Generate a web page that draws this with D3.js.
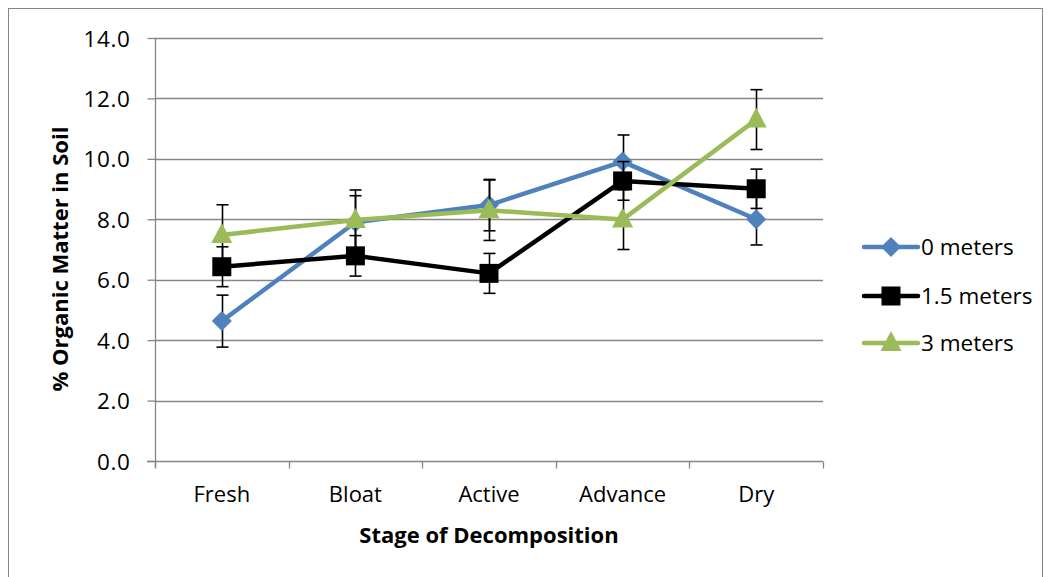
<!DOCTYPE html>
<html><head><meta charset="utf-8">
<script src="https://cdn.jsdelivr.net/npm/d3@7"></script>
<style>body{margin:0;background:#fff}svg{display:block}text{font-family:"Open Sans","Noto Sans",sans-serif}</style>
</head><body><svg id="c" width="1051" height="577"></svg>
<script>
const categories = ["Fresh","Bloat","Active","Advance","Dry"];
const seriesNames = ["0 meters","1.5 meters","3 meters"];
const vals0 = [4.63, 7.9, 8.47, 9.91, 8.0];
const err0  = [0.86, 0.88, 0.85, 0.88, 0.85];
const vals15 = [6.43, 6.79, 6.21, 9.27, 9.01];
const err15  = [0.66, 0.67, 0.66, 0.64, 0.65];
const vals3 = [7.48, 7.98, 8.3, 7.99, 11.3];
const err3  = [1.0, 0.99, 1.0, 0.99, 0.99];
const yTicks = [0,2,4,6,8,10,12,14];

const svg = d3.select("#c");
const L=155,R=823,T=38,B=461;
const x = d3.scaleBand().domain(categories).range([L,R]);
const y = d3.scaleLinear().domain([0,14]).range([B,T]);
const cx = c => x(c)+x.bandwidth()/2;

svg.append("rect").attr("x",8.5).attr("y",8.5).attr("width",1034).attr("height",600)
  .attr("fill","none").attr("stroke","#868686").attr("stroke-width",1);

svg.append("g").selectAll("line").data(yTicks.filter(d=>d>0)).join("line")
  .attr("x1",L).attr("x2",R).attr("y1",d=>Math.round(y(d))+0.5).attr("y2",d=>Math.round(y(d))+0.5)
  .attr("stroke","#868686").attr("stroke-width",1.3);

const ya = svg.append("g").attr("transform",`translate(${L+0.5},0)`)
  .call(d3.axisLeft(y).tickValues(yTicks).tickFormat(d3.format(".1f")).tickSize(8).tickSizeOuter(0));
ya.select(".domain").attr("stroke","#868686").attr("stroke-width",1.3).attr("d",`M0,${T}V${B+7}`);
ya.selectAll(".tick line").attr("stroke","#868686").attr("stroke-width",1.3);
ya.selectAll(".tick text").attr("font-size",22.5).attr("fill","#000").attr("x",-25).attr("dy","0.36em").attr("letter-spacing",0.6);

const xa = svg.append("g").attr("transform",`translate(0,${Math.round(B)+0.5})`)
  .call(d3.axisBottom(x).tickSize(0).tickSizeOuter(0));
xa.select(".domain").attr("stroke","#868686").attr("stroke-width",1.3).attr("d",`M${L-8},0H${R}`);
xa.selectAll(".tick text").attr("font-size",22).attr("fill","#000").attr("y",33).attr("dy","0.35em");
const bounds = d3.range(categories.length+1).map(i=>L+i*x.step());
xa.selectAll(".bt").data(bounds).join("line").attr("class","bt")
  .attr("x1",d=>Math.round(d)+0.5).attr("x2",d=>Math.round(d)+0.5).attr("y1",0).attr("y2",7)
  .attr("stroke","#868686").attr("stroke-width",1.3);

svg.append("text").attr("x",489).attr("y",535).attr("dy","0.35em").attr("text-anchor","middle")
  .attr("font-size",22).attr("font-weight","bold").text("Stage of Decomposition");
svg.append("text").attr("transform","translate(60,259) rotate(-90)").attr("dy","0.35em").attr("text-anchor","middle")
  .attr("font-size",22).attr("font-weight","bold").text("% Organic Matter in Soil");

const series = [
  {name:seriesNames[0], v:vals0, e:err0, color:"#4F81BD", shape:"diamond"},
  {name:seriesNames[1], v:vals15, e:err15, color:"#000000", shape:"square"},
  {name:seriesNames[2], v:vals3, e:err3, color:"#9BBB59", shape:"triangle"}
];
function drawMarker(g,shape,color,px,py){
  if(shape==="diamond"){
    g.append("path").attr("d",`M${px},${py-10}L${px+10},${py}L${px},${py+10}L${px-10},${py}Z`).attr("fill",color);
  } else if(shape==="square"){
    g.append("rect").attr("x",px-9.5).attr("y",py-9.5).attr("width",19).attr("height",19).attr("fill",color);
  } else {
    g.append("path").attr("d",`M${px},${py-12}L${px+10.5},${py+8}L${px-10.5},${py+8}Z`).attr("fill",color);
  }
}
const line = d3.line().x((d,i)=>cx(categories[i])).y(d=>y(d));
series.forEach(s=>{
  const g = svg.append("g");
  s.v.forEach((v,i)=>{
    const px = Math.round(cx(categories[i]))+0.5;
    const y1=y(v+s.e[i]), y2=y(v-s.e[i]);
    g.append("line").attr("x1",px).attr("x2",px).attr("y1",y1).attr("y2",y2).attr("stroke","#000").attr("stroke-width",1.6);
    [y1,y2].forEach(yy=>g.append("line").attr("x1",px-6).attr("x2",px+6).attr("y1",yy).attr("y2",yy).attr("stroke","#000").attr("stroke-width",1.6));
  });
  g.append("path").attr("d",line(s.v)).attr("fill","none").attr("stroke",s.color).attr("stroke-width",4.5).attr("stroke-linejoin","round");
  s.v.forEach((v,i)=>drawMarker(g,s.shape,s.color,cx(categories[i]),y(v)));
});

const legY=[247,296,343];
series.forEach((s,i)=>{
  const g=svg.append("g");
  g.append("line").attr("x1",864).attr("x2",918).attr("y1",legY[i]).attr("y2",legY[i]).attr("stroke",s.color).attr("stroke-width",4.5).attr("stroke-linecap","round");
  drawMarker(g,s.shape,s.color,891,legY[i]);
  g.append("text").attr("x",921).attr("y",legY[i]).attr("dy","0.35em").attr("font-size",22.5).text(s.name);
});
</script></body></html>
